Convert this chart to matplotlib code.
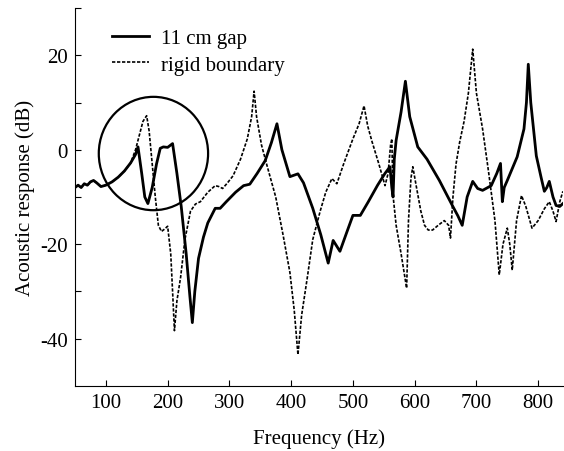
import matplotlib
matplotlib.use("Agg")
import matplotlib.pyplot as plt
from matplotlib.patches import Ellipse

plt.rcParams['font.family'] = ['Liberation Serif', 'DejaVu Serif']
plt.rcParams['axes.unicode_minus'] = False

gap_freq = [50, 55, 60, 65, 70, 75, 80, 85, 92, 100, 110, 120, 130, 140, 148, 152, 158, 163, 168,
            175, 182, 188, 193, 200, 208, 215, 222, 230, 236, 240, 244, 250, 258, 265, 277, 285,
            295, 310, 323, 333, 345, 358, 368, 377, 385, 398, 411, 420, 435, 448, 460, 468, 479,
            490, 500, 512, 525, 540, 552, 560, 563, 565, 567, 570, 578, 585, 592, 605, 620, 640,
            661, 670, 677, 685, 694, 702, 710, 724, 733, 739, 742, 745, 750, 758, 766, 777, 781,
            784, 788, 797, 805, 810, 814, 818, 824, 829, 835, 840]
gap_db = [-8, -7.5, -8, -7.2, -7.5, -6.8, -6.5, -7, -7.8, -7.5, -6.8, -5.8, -4.5, -2.8, -1, 0.6,
          -5, -10, -11.4, -8, -3, 0.3, 0.6, 0.5, 1.3, -5, -12, -22, -31, -36.6, -30, -23, -18.5,
          -15.5, -12.4, -12.4, -11, -9, -7.6, -7.3, -5, -2.3, 1.5, 5.5, 0, -5.7, -5.1, -7,
          -12.4, -18, -24, -19.2, -21.5, -17.5, -13.9, -13.9, -11, -7.5, -5, -3.6, -8, -10, -2,
          2, 8, 14.5, 7, 0.6, -2, -6.5, -11.8, -14, -16, -10, -6.7, -8.2, -8.6, -7.6, -5, -2.9,
          -11, -8, -6.5, -4, -1.5, 4.4, 10, 18.1, 10, -1.3, -6, -8.8, -8, -6.7, -10, -11.8, -12,
          -11.4]

rigid_freq = [50, 55, 60, 65, 70, 75, 80, 85, 92, 100, 110, 120, 130, 140, 148, 155, 160, 166,
              170, 175, 180, 185, 190, 195, 200, 205, 208, 211, 215, 221, 228, 237, 245, 253, 265,
              277, 283, 289, 297, 306, 318, 329, 336, 340, 344, 352, 361, 375, 387, 398, 405, 411,
              417, 426, 435, 447, 456, 466, 474, 485, 500, 510, 518, 524, 531, 542, 552, 557, 561,
              563, 565, 570, 578, 587, 590, 594, 597, 603, 610, 616, 622, 629, 638, 648, 655, 658,
              662, 667, 673, 680, 687, 694, 700, 710, 720, 730, 737, 743, 750, 754, 758, 765, 773,
              780, 790, 800, 810, 818, 824, 829, 835, 840]
rigid_db = [-8, -7.5, -8, -7.2, -7.5, -6.8, -6.5, -7, -7.8, -7.5, -6.8, -5.8, -4.5, -2.8, 0, 3.5,
            6, 7.2, 4, -3, -10, -16, -17.3, -16.8, -16.2, -22, -30, -38.3, -32, -27, -19, -13,
            -11.5, -11, -9, -7.6, -7.8, -8.2, -7, -5.5, -2, 2.3, 7, 12.4, 7, 1, -3.4, -10, -18.1,
            -26, -34, -43.4, -35, -27.2, -19, -13, -9, -6.1, -7.2, -3, 2.3, 5.5, 9.3, 5, 1.7, -3,
            -7.6, -5, 1, 2.3, -9.7, -16, -22, -29.3, -15, -6, -3.6, -8, -13, -16, -17, -17, -16,
            -15, -16, -18.7, -10, -3, 1.7, 6, 12, 21.3, 12, 4.4, -5, -15, -26.5, -20, -16.6, -20,
            -25.5, -15, -9.7, -12, -16.6, -15, -12.5, -11, -13, -15.2, -11, -8.8]

x_ticks = [100, 200, 300, 400, 500, 600, 700, 800]
y_ticks = [-40, -20, 0, 20]

fig = plt.figure(figsize=(5.64, 4.52), dpi=100)
ax = fig.add_axes([0.133, 0.144, 0.865, 0.836])

ax.plot(gap_freq, gap_db, color='black', lw=2.0, label='11 cm gap')
ax.plot(rigid_freq, rigid_db, color='black', lw=1.2, linestyle=(0, (2, 1)), label='rigid boundary')

ax.add_patch(Ellipse((177, -0.8), 177, 24, fill=False, edgecolor='black', lw=1.6))

ax.set_xlim(50, 840)
ax.set_ylim(-50, 30)
ax.set_xticks(x_ticks)
ax.set_yticks(y_ticks)
ax.set_yticks([-30, -10, 10, 30], minor=True)
ax.tick_params(direction='in', length=4, width=0.8, labelsize=15, pad=5)
ax.tick_params(which='minor', direction='in', length=4, width=0.8)
ax.spines['top'].set_visible(False)
ax.spines['right'].set_visible(False)
ax.spines['left'].set_linewidth(0.8)
ax.spines['bottom'].set_linewidth(0.8)

ax.set_xlabel('Frequency (Hz)', fontsize=15, labelpad=12)
ax.set_ylabel('Acoustic response (dB)', fontsize=15, labelpad=4)

ax.legend(loc='upper left', bbox_to_anchor=(0.045, 0.985), frameon=False, fontsize=15,
          handlelength=1.8, handletextpad=0.55, labelspacing=0.35, borderaxespad=0.3)

fig.savefig('out.png', dpi=100)
